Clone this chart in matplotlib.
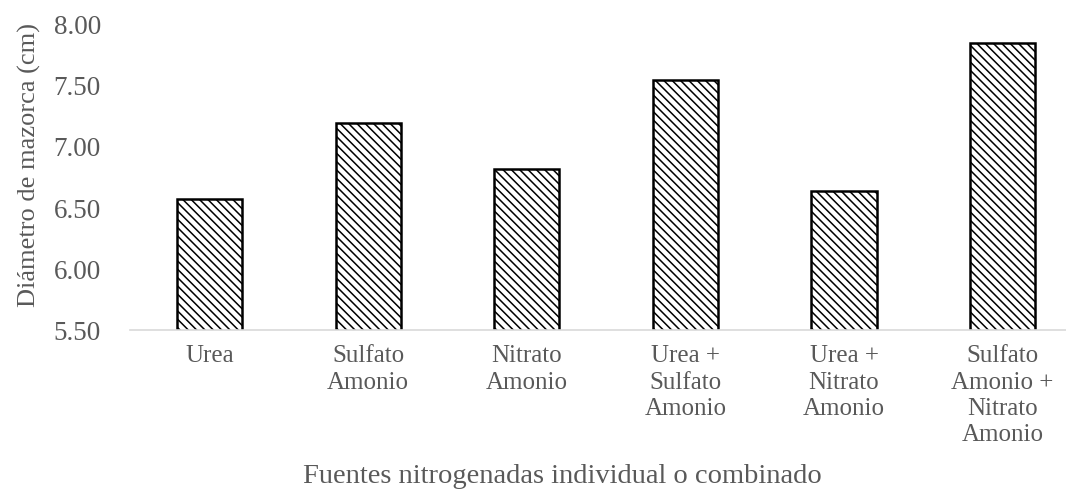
import matplotlib
matplotlib.use('Agg')
import matplotlib.pyplot as plt
import numpy as np

# data
fuentes = ['Urea', 'Sulfato\nAmonio', 'Nitrato\nAmonio', 'Urea +\nSulfato\nAmonio',
           'Urea +\nNitrato\nAmonio', 'Sulfato\nAmonio +\nNitrato\nAmonio']
diametro = [6.57, 7.20, 6.82, 7.55, 6.64, 7.85]
y_ticks = [5.50, 6.00, 6.50, 7.00, 7.50, 8.00]

plt.rcParams['font.family'] = ['Liberation Serif', 'DejaVu Serif']
plt.rcParams['hatch.linewidth'] = 1.1
text_col = '#595959'

fig = plt.figure(figsize=(10.66, 4.90), dpi=100)
ax = fig.add_axes([0.122, 0.3265, 0.893, 0.6225])

x = np.arange(len(fuentes))
ax.bar(x, diametro, width=0.41, bottom=0, color='white', edgecolor='black',
       linewidth=1.8, hatch='\\\\\\\\')

ax.set_ylim(5.5, 8.0)
ax.set_xlim(-0.5, len(fuentes) - 0.5)
ax.set_yticks(y_ticks)
ax.set_yticklabels([f'{v:.2f}' for v in y_ticks], fontsize=19.5, color=text_col)
ax.set_xticks(x)
ax.set_xticklabels(fuentes, fontsize=18, color=text_col, linespacing=1.25)
ax.tick_params(axis='y', length=0, pad=21)
ax.tick_params(axis='x', length=0, pad=11)

for s in ['top', 'right', 'left']:
    ax.spines[s].set_visible(False)
ax.spines['bottom'].set_color('#d9d9d9')
ax.spines['bottom'].set_linewidth(1.2)

ax.set_ylabel('Diámetro de mazorca (cm)', fontsize=19, color=text_col)
ax.yaxis.set_label_coords(-0.094, 0.54)
fig.text(0.528, 0.003, 'Fuentes nitrogenadas individual o combinado',
         fontsize=20.5, color=text_col, ha='center', va='bottom')

fig.savefig('out.png', dpi=100)
